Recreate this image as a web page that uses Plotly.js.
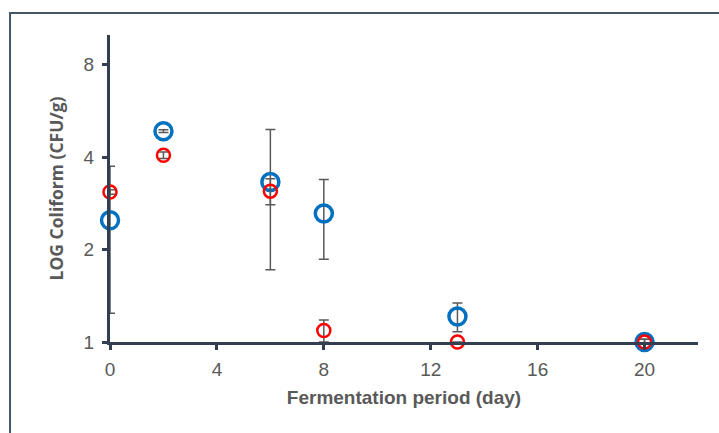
<!DOCTYPE html>
<html>
<head>
<meta charset="utf-8">
<script src="https://cdn.plot.ly/plotly-3.0.1.min.js"></script>
<style>
  html, body { margin: 0; padding: 0; background: #ffffff; }
  #chart { width: 719px; height: 433px; }
</style>
</head>
<body>
<div id="chart"></div>
<script>
// Fermentation day
const days = [0, 2, 6, 8, 13, 20];
// Series A (blue)
const seriesBlue = [2.49, 4.86, 3.32, 2.62, 1.21, 1.0];
const errBlue = [1.25, 0.05, 1.6, 0.76, 0.13, 0.02];
// Series B (red)
const seriesRed = [3.08, 4.06, 3.10, 1.09, 1.0, 1.0];
const errRed = [0.05, 0.1, 0.3, 0.09, 0.0, 0.02];
// Axis ticks
const xTicks = [0, 4, 8, 12, 16, 20];
const yTicks = [1, 2, 4, 8];

const errStyle = { type: 'data', visible: true, color: '#595959', thickness: 1.5, width: 5 };

const traces = [
  {
    x: days, y: seriesBlue, type: 'scatter', mode: 'markers', name: 'A',
    cliponaxis: false,
    marker: { symbol: 'circle-open', size: 17, color: '#0070C0', line: { width: 3.5, color: '#0070C0' } },
    error_y: Object.assign({ array: errBlue }, errStyle)
  },
  {
    x: days, y: seriesRed, type: 'scatter', mode: 'markers', name: 'B',
    cliponaxis: false,
    marker: { symbol: 'circle-open', size: 13, color: '#FF0000', line: { width: 2.5, color: '#FF0000' } },
    error_y: Object.assign({ array: errRed }, errStyle)
  }
];

const axisColor = '#333F50';
const tickFont = { family: 'Liberation Sans Narrow, Arial Narrow, sans-serif', size: 19, color: '#595959' };
const layout = {
  width: 719, height: 433,
  margin: { l: 110, r: 21, t: 35, b: 91 },
  paper_bgcolor: '#ffffff', plot_bgcolor: '#ffffff',
  showlegend: false,
  xaxis: {
    range: [0, 22], tickvals: xTicks, ticktext: xTicks.map(String),
    showgrid: false, zeroline: false,
    showline: true, linecolor: axisColor, linewidth: 3,
    ticks: 'outside', ticklen: 5, tickwidth: 3, tickcolor: axisColor,
    ticklabelstandoff: 3,
    tickfont: tickFont,
    title: { text: 'Fermentation period (day)', standoff: 12,
      font: { family: 'Liberation Sans Narrow, Arial Narrow, sans-serif', size: 19, color: '#595959', weight: 'bold' } }
  },
  yaxis: {
    type: 'log', range: [0, 1], tickvals: yTicks, ticktext: yTicks.map(String),
    showgrid: false, zeroline: false,
    showline: true, linecolor: axisColor, linewidth: 3,
    ticks: 'outside', ticklen: 5, tickwidth: 3, tickcolor: axisColor,
    ticklabelstandoff: 4,
    tickfont: tickFont,
    title: { text: 'LOG Coliform (CFU/g)', standoff: 16,
      font: { family: 'Open Sans, sans-serif', size: 17.5, color: '#595959', weight: 'bold' } }
  },
  shapes: [
    {
      type: 'path', xref: 'paper', yref: 'paper',
      path: 'M -0.170 -0.35 L -0.170 1.0717 L 1.06 1.0717',
      line: { color: '#44546A', width: 2 }
    }
  ]
};

Plotly.newPlot('chart', traces, layout, { displayModeBar: false, staticPlot: true });
</script>
</body>
</html>
